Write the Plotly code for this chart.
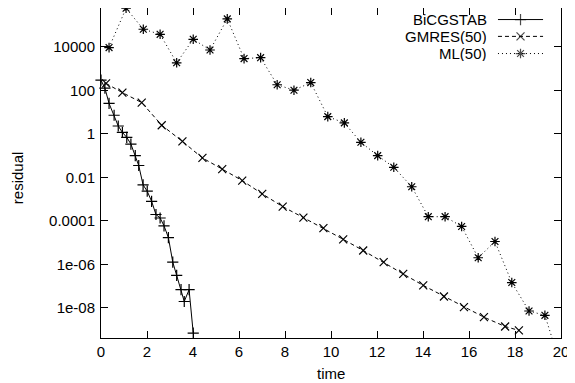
import plotly.graph_objects as go

# ---- data ----
bicg_time = [0.0, 0.17, 0.35, 0.57, 0.75, 0.93, 1.12, 1.30, 1.49, 1.64, 1.83, 2.01,
             2.20, 2.39, 2.57, 2.74, 2.93, 3.12, 3.29, 3.48, 3.62, 3.83, 4.01]
bicg_res = [295, 126, 25.1, 7.2, 2.3, 1.17, 0.69, 0.34, 0.1, 0.035, 4.5e-3, 2.3e-3,
            7.9e-4, 1.95e-4, 1.35e-4, 5.9e-5, 1.7e-5, 1.26e-6, 3.1e-7, 6.8e-8, 1.95e-8,
            6.8e-8, 6.9e-10]

gmres_time = [0.22, 0.93, 1.77, 2.64, 3.54, 4.41, 5.27, 6.14, 7.01, 7.90, 8.80, 9.67,
              10.53, 11.40, 12.29, 13.14, 14.01, 14.91, 15.78, 16.65, 17.57, 18.17]
gmres_res = [209, 79, 27.5, 2.5, 0.45, 0.078, 0.024, 7.1e-3, 1.74e-3, 4.5e-4, 1.41e-4,
             4.6e-5, 1.41e-5, 4.3e-6, 1.26e-6, 3.6e-7, 1.07e-7, 3.3e-8, 1.07e-8, 3.7e-9,
             1.38e-9, 9.1e-10]

ml_time = [0.35, 1.09, 1.84, 2.57, 3.29, 4.01, 4.74, 5.49, 6.22, 6.94, 7.66, 8.39, 9.12,
           9.86, 10.58, 11.30, 12.03, 12.73, 13.51, 14.23, 14.96, 15.68, 16.40, 17.13,
           17.86, 18.61, 19.30, 19.62]
ml_res = [9300, 6.0e5, 6.5e4, 3.8e4, 1860, 2.24e4, 7200, 1.95e5, 2900, 3200, 182, 102,
          229, 6.2, 3.2, 0.41, 0.1, 0.029, 3.7e-3, 1.55e-4, 1.55e-4, 5.5e-5, 2.0e-6,
          1.12e-5, 1.45e-7, 7.1e-9, 4.5e-9, 3.8e-10]

series_names = ["BiCGSTAB", "GMRES(50)", "ML(50)"]

x_tick_vals = [0, 2, 4, 6, 8, 10, 12, 14, 16, 18, 20]
y_tick_vals = [1e-8, 1e-6, 1e-4, 1e-2, 1, 100, 10000]
y_tick_text = ["1e-08", "1e-06", "0.0001", "0.01", "1", "100", "10000"]

FONT = "Liberation Sans, Arial, Helvetica, sans-serif"
styles = [
    dict(dash="solid", symbol="cross-thin", size=8),
    dict(dash="4px,3px", symbol="x-thin", size=8),
    dict(dash="1px,3px", symbol="asterisk", size=8),
]
xs = [bicg_time, gmres_time, ml_time]
ys = [bicg_res, gmres_res, ml_res]

fig = go.Figure()
for name, x, y, st in zip(series_names, xs, ys, styles):
    fig.add_trace(go.Scatter(
        x=x, y=y, name=name, mode="lines+markers",
        line=dict(color="black", width=1, dash=st["dash"]),
        marker=dict(symbol=st["symbol"], size=st["size"], color="black",
                    line=dict(color="black", width=1.2)),
        cliponaxis=False, showlegend=False,
    ))

# gnuplot-style key (text on the left, sample on the right), drawn on an overlay axis
key_rows = [0.965, 0.914, 0.862]
for name, st, ky in zip(series_names, styles, key_rows):
    fig.add_trace(go.Scatter(
        x=[0.863, 0.912, 0.961], y=[ky, ky, ky], xaxis="x2", yaxis="y2",
        mode="lines+markers", showlegend=False, hoverinfo="skip",
        line=dict(color="black", width=1, dash=st["dash"]),
        marker=dict(symbol=st["symbol"], size=[0, st["size"], 0], color="black",
                    line=dict(color="black", width=1.2)),
    ))
    fig.add_annotation(x=0.841, y=ky, xref="x2", yref="y2", text=name,
                       showarrow=False, xanchor="right", yanchor="middle",
                       borderpad=0, height=15,
                       font=dict(family=FONT, size=15, color="black"))

# axis titles
fig.add_annotation(x=-0.180, y=0.485, xref="paper", yref="paper", text="residual",
                   textangle=-90, showarrow=False, xanchor="center", yanchor="middle",
                   font=dict(family=FONT, size=15, color="black"))
fig.add_annotation(x=0.5, y=-0.108, xref="paper", yref="paper", text="time",
                   showarrow=False, xanchor="center", yanchor="middle",
                   font=dict(family=FONT, size=15, color="black"))

axis_common = dict(showline=True, linecolor="black", linewidth=1, mirror="ticks",
                   ticks="inside", ticklen=7, tickcolor="black", tickwidth=1,
                   showgrid=False, zeroline=False, automargin=False,
                   tickfont=dict(family=FONT, size=15, color="black"))

# the page body has an 8px default margin, so the figure is 8px smaller and shifted
fig.update_layout(
    width=567, height=375,
    margin=dict(l=93, r=14, t=0, b=45),
    paper_bgcolor="white", plot_bgcolor="white",
    font=dict(family=FONT, size=15, color="black"),
    xaxis=dict(range=[0, 20], tickvals=x_tick_vals, **axis_common),
    yaxis=dict(type="log", range=[-9.39, 5.79], tickvals=y_tick_vals,
               ticktext=y_tick_text, ticklabelstandoff=2, **axis_common),
    xaxis2=dict(overlaying="x", range=[0, 1], visible=False),
    yaxis2=dict(overlaying="y", range=[0, 1], visible=False),
    showlegend=False,
)

fig.write_html("out.html")
